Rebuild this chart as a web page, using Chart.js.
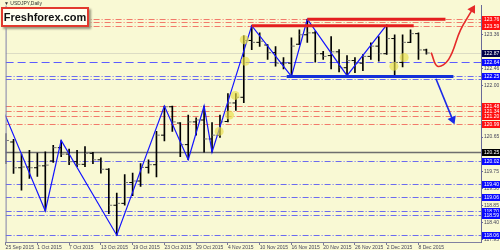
<!DOCTYPE html>
<html>
<head>
<meta charset="utf-8">
<script src="https://cdn.jsdelivr.net/npm/chart.js@4"></script>
<style>
  html, body { margin: 0; padding: 0; background: #f9f9d4; }
  #wrap { position: relative; width: 500px; height: 250px; }
  #title { position: absolute; left: 4px; top: 0px; font: 5px "Liberation Sans", sans-serif; color: #333; }
  #logo {
    position: absolute; left: 1px; top: 7px; width: 84px; height: 16px;
    border: 2px solid #e23a2e; background: #fffff2; box-shadow: 2px 2px 2px #9a9a80;
    font: bold 11px "Liberation Sans", Arial, sans-serif; color: #111;
    line-height: 16px; text-align: center;
  }
</style>
</head>
<body>
<div id="wrap">
  <canvas id="chart" width="500" height="250"></canvas>
  <div id="title">&#9660; USDJPY,Daily</div>
  <div id="logo">Freshforex.com</div>
</div>
<script>
// daily bars, 25 Sep - 9 Dec 2015
const dates = ["25 Sep 2015","28 Sep 2015","29 Sep 2015","30 Sep 2015","1 Oct 2015","2 Oct 2015",
  "5 Oct 2015","6 Oct 2015","7 Oct 2015","8 Oct 2015","9 Oct 2015","12 Oct 2015","13 Oct 2015",
  "14 Oct 2015","15 Oct 2015","16 Oct 2015","19 Oct 2015","20 Oct 2015","21 Oct 2015","22 Oct 2015",
  "23 Oct 2015","26 Oct 2015","27 Oct 2015","28 Oct 2015","29 Oct 2015","30 Oct 2015","2 Nov 2015",
  "3 Nov 2015","4 Nov 2015","5 Nov 2015","6 Nov 2015","9 Nov 2015","10 Nov 2015","11 Nov 2015",
  "12 Nov 2015","13 Nov 2015","16 Nov 2015","17 Nov 2015","18 Nov 2015","19 Nov 2015","20 Nov 2015",
  "23 Nov 2015","24 Nov 2015","25 Nov 2015","26 Nov 2015","27 Nov 2015","30 Nov 2015","1 Dec 2015",
  "2 Dec 2015","3 Dec 2015","4 Dec 2015","7 Dec 2015","8 Dec 2015","9 Dec 2015"];
const opens  = [120.01,120.52,119.84,119.86,119.84,119.89,120.02,120.37,120.20,120.00,119.93,120.22,120.05,
  119.80,118.85,118.90,119.45,119.49,119.85,119.92,120.70,121.45,121.02,120.45,121.05,121.10,120.60,
  120.70,121.06,121.55,121.70,123.20,123.15,123.08,122.88,122.60,122.60,123.10,123.35,123.40,122.85,
  122.80,122.90,122.48,122.67,122.60,122.78,123.05,122.85,123.25,122.62,123.15,123.38,122.95];
const highs  = [120.74,120.59,120.20,120.30,120.23,120.26,120.43,120.56,120.33,120.30,120.40,120.25,120.10,
  119.82,119.17,119.66,119.70,119.95,120.05,120.80,121.47,121.47,121.03,121.23,121.16,121.47,121.03,
  121.23,121.80,121.80,123.32,123.59,123.40,123.09,123.04,122.75,123.27,123.48,123.76,123.45,122.91,
  123.30,122.96,122.80,122.75,122.83,123.14,123.30,123.61,123.35,123.35,123.48,123.40,122.97];
const lows   = [119.95,119.69,119.25,119.56,119.61,118.70,119.98,120.13,119.92,119.87,119.87,119.95,119.70,
  118.63,118.06,118.85,119.10,119.35,119.70,119.60,120.55,120.80,120.13,120.05,120.70,120.25,120.25,
  120.64,121.05,121.35,121.56,122.96,123.04,122.70,122.52,122.45,122.25,123.09,123.15,122.63,122.70,
  122.45,122.37,122.27,122.35,122.40,122.70,122.65,122.83,122.27,122.50,123.14,122.70,122.84];
const closes = [120.56,119.84,119.86,119.84,119.89,119.91,120.37,120.20,120.00,119.93,120.22,120.05,119.80,
  118.85,118.90,119.45,119.49,119.85,119.92,120.70,121.45,121.05,120.45,121.05,121.10,120.60,120.70,
  121.05,121.55,121.70,123.20,123.15,123.18,122.88,122.60,122.60,123.05,123.35,123.40,122.85,122.78,
  122.90,122.48,122.67,122.60,122.78,123.05,122.85,123.25,122.62,123.15,123.38,122.95,122.87];

const dateTickIdx = [0,4,8,12,16,20,24,28,32,36,40,44,48,52];
const priceTicks = [117.95,118.40,118.85,119.30,119.75,120.65,122.00,122.46,123.36];

// zigzag turning points (bar index, price)
const zigIdx = [-1, 5, 7, 14, 20, 23, 25, 26, 31, 36, 38, 43, 48];
const zigVal = [121.70,118.70,120.56,118.06,121.47,120.05,121.47,120.25,123.59,122.25,123.76,122.27,123.61];

// thick support / resistance segments
const segFrom = [31, 38, 35.4];
const segTo   = [51.4, 55.4, 56.4];
const segVal  = [123.59, 123.76, 122.25];

// horizontal levels
const redLevels  = [123.76,123.68,123.59,121.48,121.34,121.20,120.99];
const blueLevels = [122.25,122.19,120.02,119.40,119.06,118.70,118.59,118.06];
const bidLevel = 122.87;
const targetLevel = 122.64;
const pivotLevel = 120.25;
const redTags  = [123.76,123.59,121.48,121.34,121.20,120.99];
const blueTags = [122.64,122.25,120.02,119.40,119.06,118.70,118.59,118.06];

// forecast arrows and highlighted spots
const upArrowIdx = [53.6, 54.4, 55.8, 57.3, 58.8];
const upArrowVal = [122.88, 122.52, 122.70, 123.48, 124.02];
const downArrowIdx = [54.2, 56.3];
const downArrowVal = [122.19, 121.11];
const markIdx = [30.06, 30.2, 28.9, 28.2, 26.9, 50.2, 48.9];
const markVal = [123.22, 122.65, 121.75, 121.23, 120.80, 122.75, 122.52];

const pts = (xs, ys) => xs.map((x, i) => ({ x: x, y: ys[i] }));

function headRotation(ctx) {
  const d = ctx.dataset.data, n = d.length;
  const sx = ctx.chart.scales.x, sy = ctx.chart.scales.y;
  if (!sx || !sy) return 0;
  const dx = sx.getPixelForValue(d[n - 1].x) - sx.getPixelForValue(d[n - 2].x);
  const dy = sy.getPixelForValue(d[n - 1].y) - sy.getPixelForValue(d[n - 2].y);
  return Math.atan2(dx, -dy) * 180 / Math.PI;
}
const lastOnly = (r) => (ctx) => ctx.dataIndex === ctx.dataset.data.length - 1 ? r : 0;

const levelPlugin = {
  id: 'levels',
  beforeDraw(chart) {
    const c = chart.ctx;
    c.save();
    c.fillStyle = '#f9f9d4';
    c.fillRect(0, 0, chart.width, chart.height);
    c.restore();
  },
  beforeDatasetsDraw(chart) {
    const { ctx, chartArea: a, scales: { y } } = chart;
    ctx.save();
    ctx.beginPath();
    ctx.rect(a.left, a.top, a.right - a.left, a.bottom - a.top);
    ctx.clip();
    const hline = (v, color, dash, w) => {
      const py = Math.round(y.getPixelForValue(v)) + 0.5;
      ctx.strokeStyle = color; ctx.setLineDash(dash); ctx.lineWidth = w;
      ctx.beginPath(); ctx.moveTo(a.left, py); ctx.lineTo(a.right, py); ctx.stroke();
    };
    redLevels.forEach(v => hline(v, '#f27a6a', [6, 2, 1, 2], 1));
    blueLevels.forEach(v => hline(v, '#6b6bf0', [6, 2, 1, 2], 1));
    hline(bidLevel, '#dcdcc4', [], 1);
    hline(targetLevel, '#5c5cff', [8, 4], 1);
    hline(pivotLevel, '#6e6e6e', [], 1.5);
    ctx.restore();
  },
  afterDraw(chart) {
    const { ctx, chartArea: a, scales: { y } } = chart;
    ctx.save();
    // frame
    ctx.strokeStyle = '#8080a8'; ctx.lineWidth = 1;
    ctx.beginPath();
    ctx.moveTo(a.left + 0.5, a.top); ctx.lineTo(a.left + 0.5, a.bottom);
    ctx.stroke();
    // price tags on the axis
    const tag = (v, bg) => {
      const py = Math.round(y.getPixelForValue(v));
      ctx.fillStyle = bg;
      ctx.fillRect(a.right + 1, py - 3, 19, 7);
      ctx.fillStyle = '#ffffff';
      ctx.font = '5px "Liberation Sans", sans-serif';
      ctx.textBaseline = 'middle';
      ctx.fillText(v.toFixed(2), a.right + 3, py + 0.5);
    };
    redTags.forEach(v => tag(v, '#ff1010'));
    blueTags.forEach(v => tag(v, '#0a0aff'));
    tag(bidLevel, '#00004a');
    tag(pivotLevel, '#000000');
    ctx.restore();
  }
};

new Chart(document.getElementById('chart'), {
  type: 'bar',
  data: {
    datasets: [
      {
        type: 'line', data: pts(upArrowIdx, upArrowVal),
        borderColor: '#e52a2a', borderWidth: 1.6, tension: 0.4,
        pointStyle: 'triangle', pointRadius: lastOnly(3.5), pointRotation: headRotation,
        pointBackgroundColor: '#e52a2a', pointBorderColor: '#e52a2a', clip: false
      },
      {
        type: 'line', data: pts(downArrowIdx, downArrowVal),
        borderColor: '#1a2ae8', borderWidth: 1.6,
        pointStyle: 'triangle', pointRadius: lastOnly(3.5), pointRotation: headRotation,
        pointBackgroundColor: '#1a2ae8', pointBorderColor: '#1a2ae8'
      },
      {
        type: 'scatter', data: pts(markIdx, markVal),
        pointRadius: 4.5, backgroundColor: 'rgba(232,222,70,0.65)', borderWidth: 0
      },
      ...segVal.map((v, k) => ({
        type: 'line', data: [{ x: segFrom[k], y: v }, { x: segTo[k], y: v }],
        borderColor: k < 2 ? '#e41e1e' : '#1430d8', borderWidth: 3, pointRadius: 0
      })),
      {
        type: 'line', data: pts(zigIdx, zigVal),
        borderColor: '#1515ff', borderWidth: 1.2, pointRadius: 0, tension: 0
      },
      {
        type: 'scatter', data: opens.map((v, i) => ({ x: i - 0.22, y: v })),
        pointStyle: 'line', pointRadius: 1.6, borderColor: '#000000', borderWidth: 1
      },
      {
        type: 'scatter', data: closes.map((v, i) => ({ x: i + 0.22, y: v })),
        pointStyle: 'line', pointRadius: 1.6, borderColor: '#777777', borderWidth: 1
      },
      {
        type: 'bar', data: lows.map((v, i) => ({ x: i, y: [v, highs[i]] })),
        backgroundColor: '#000000', barThickness: 1
      }
    ]
  },
  options: {
    responsive: false,
    animation: false,
    layout: { padding: { left: 2, top: 0, right: 0, bottom: 0 } },
    plugins: { legend: { display: false }, tooltip: { enabled: false } },
    scales: {
      x: {
        type: 'linear', min: 0, max: 59.875, offset: false,
        afterBuildTicks: (s) => { s.ticks = dateTickIdx.map(v => ({ value: v })); },
        afterFit: (s) => { s.height = 8; },
        ticks: {
          callback: (v) => dates[v], align: 'start', autoSkip: false, maxRotation: 0,
          padding: 0, color: '#44445a', font: { family: 'Liberation Sans', size: 5 }
        },
        grid: { drawOnChartArea: false, offset: false, tickLength: 3, color: '#7a7a90' },
        border: { color: '#8080a0' }
      },
      y: {
        position: 'right', min: 117.88, max: 124.12,
        afterBuildTicks: (s) => { s.ticks = priceTicks.map(v => ({ value: v })); },
        afterFit: (s) => { s.width = 19; },
        ticks: {
          callback: (v) => v.toFixed(2), autoSkip: false, padding: 1,
          color: '#44445a', font: { family: 'Liberation Sans', size: 5 }
        },
        grid: { drawOnChartArea: false, tickLength: 2, color: '#6a6a98' },
        border: { color: '#6a6a98' }
      }
    }
  },
  plugins: [levelPlugin]
});
</script>
</body>
</html>
